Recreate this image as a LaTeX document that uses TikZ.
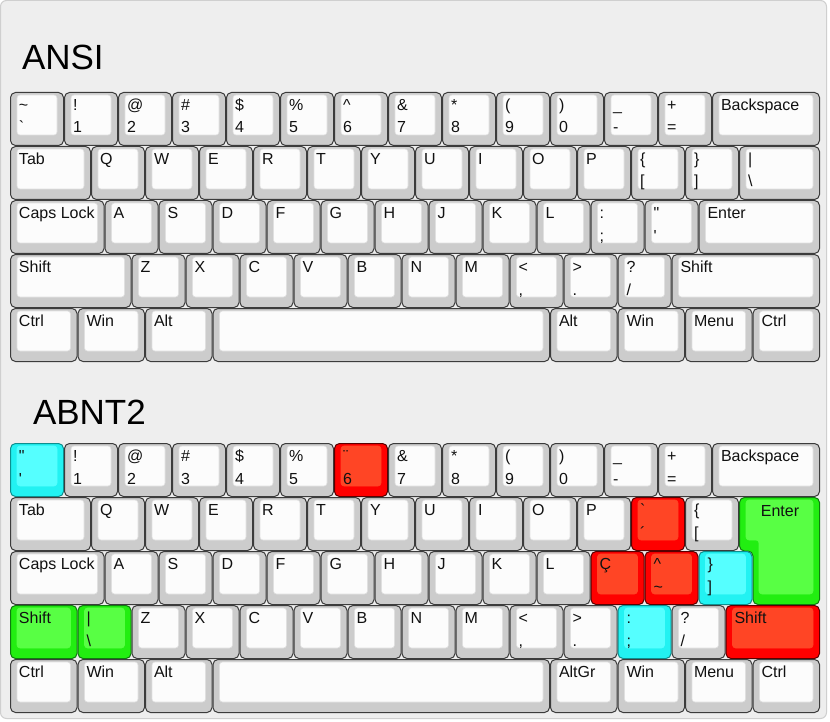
\documentclass[tikz,border=0pt]{standalone}
\usepackage{fontspec}
\setmainfont{Liberation Sans}[Ligatures=TeXOff]
\definecolor{keybg}{HTML}{EEEEEE}
\definecolor{frame}{HTML}{CFCFCF}
\definecolor{keygray}{HTML}{CCCCCC}
\definecolor{keyedge}{HTML}{3C3C3C}
\definecolor{keytop}{HTML}{FCFCFC}
\definecolor{keytopedge}{HTML}{E0E0E0}
\definecolor{keytext}{HTML}{111111}
\definecolor{redout}{HTML}{FF0000}
\definecolor{rededge}{HTML}{5A0000}
\definecolor{redinn}{HTML}{FF4525}
\definecolor{cyanout}{HTML}{22F2F2}
\definecolor{cyanedge}{HTML}{0E8F8F}
\definecolor{cyaninn}{HTML}{55FFFF}
\definecolor{greenout}{HTML}{22EE11}
\definecolor{greenedge}{HTML}{107A10}
\definecolor{greeninn}{HTML}{58FF44}
\tikzset{
  nout/.style={fill=keygray, draw=keyedge, line width=1pt, rounded corners=5pt},
  ninn/.style={fill=keytop, draw=keytopedge, line width=0.6pt, rounded corners=3pt},
  rout/.style={fill=redout, draw=rededge, line width=1pt, rounded corners=5pt},
  rinn/.style={fill=redinn, draw=redinn, line width=0.6pt, rounded corners=3pt},
  cout/.style={fill=cyanout, draw=cyanedge, line width=1pt, rounded corners=5pt},
  cinn/.style={fill=cyaninn, draw=cyaninn, line width=0.6pt, rounded corners=3pt},
  gout/.style={fill=greenout, draw=greenedge, line width=1pt, rounded corners=5pt},
  ginn/.style={fill=greeninn, draw=greeninn, line width=0.6pt, rounded corners=3pt},
  lbl/.style={anchor=base west, inner sep=0pt, outer sep=0pt, text=keytext, font=\fontsize{16pt}{16pt}\selectfont},
  kbtitle/.style={anchor=base west, inner sep=0pt, outer sep=0pt, text=black, font=\fontsize{35pt}{35pt}\selectfont}
}
% #1 name, #2 x, #3 y, #4 width, #5 top label, #6 bottom label, #7 colour prefix
\newcommand\kb[7]{%
  \path[#7out] ({#2+0.5},{#3+0.5}) rectangle ({#2+#4-0.5},{#3+53.5});
  \path[#7inn] ({#2+7},{#3+3}) rectangle ({#2+#4-7},{#3+43});
  \if\relax\detokenize{#5}\relax\else\node[lbl] (#1) at ({#2+9},{#3+18.5}) {#5};\fi
  \if\relax\detokenize{#6}\relax\else\node[lbl] (#1b) at ({#2+9},{#3+41}) {#6};\fi
}
\begin{document}
\begin{tikzpicture}[x=1pt,y=-1pt]
\useasboundingbox (0,0) rectangle (830,722);
\fill[white] (0,0) rectangle (830,722);
\path[fill=keybg, draw=frame, line width=1pt, rounded corners=6pt] (0.5,0.5) rectangle (826.5,718.5);

\node[kbtitle] (tansi) at (22,70) {ANSI};
\node[kbtitle] (tabnt) at (33,424) {ABNT2};

% ================= ANSI =================
% row 1
\kb{a1-0}{10}{92}{54}{\textasciitilde}{`}{n}
\kb{a1-1}{64}{92}{54}{!}{1}{n}
\kb{a1-2}{118}{92}{54}{@}{2}{n}
\kb{a1-3}{172}{92}{54}{\#}{3}{n}
\kb{a1-4}{226}{92}{54}{\$}{4}{n}
\kb{a1-5}{280}{92}{54}{\%}{5}{n}
\kb{a1-6}{334}{92}{54}{\textasciicircum}{6}{n}
\kb{a1-7}{388}{92}{54}{\&}{7}{n}
\kb{a1-8}{442}{92}{54}{*}{8}{n}
\kb{a1-9}{496}{92}{54}{(}{9}{n}
\kb{a1-10}{550}{92}{54}{)}{0}{n}
\kb{a1-11}{604}{92}{54}{\_}{-}{n}
\kb{a1-12}{658}{92}{54}{+}{=}{n}
\kb{a1-13}{712}{92}{108}{Backspace}{}{n}
% row 2
\kb{a2-t}{10}{146}{81}{Tab}{}{n}
\foreach \l [count=\i from 0] in {Q,W,E,R,T,Y,U,I,O,P}{\kb{a2-\i}{91+54*\i}{146}{54}{\l}{}{n}}
\kb{a2-lb}{631}{146}{54}{\{}{[}{n}
\kb{a2-rb}{685}{146}{54}{\}}{]}{n}
\kb{a2-bs}{739}{146}{81}{|}{\textbackslash}{n}
% row 3
\kb{a3-c}{10}{200}{94.5}{Caps Lock}{}{n}
\foreach \l [count=\i from 0] in {A,S,D,F,G,H,J,K,L}{\kb{a3-\i}{104.5+54*\i}{200}{54}{\l}{}{n}}
\kb{a3-sc}{590.5}{200}{54}{:}{;}{n}
\kb{a3-q}{644.5}{200}{54}{"}{'}{n}
\kb{a3-e}{698.5}{200}{121.5}{Enter}{}{n}
% row 4
\kb{a4-ls}{10}{254}{121.5}{Shift}{}{n}
\foreach \l [count=\i from 0] in {Z,X,C,V,B,N,M}{\kb{a4-\i}{131.5+54*\i}{254}{54}{\l}{}{n}}
\kb{a4-cm}{509.5}{254}{54}{<}{,}{n}
\kb{a4-pd}{563.5}{254}{54}{>}{.}{n}
\kb{a4-sl}{617.5}{254}{54}{?}{/}{n}
\kb{a4-rs}{671.5}{254}{148.5}{Shift}{}{n}
% row 5
\kb{a5-0}{10}{308}{67.5}{Ctrl}{}{n}
\kb{a5-1}{77.5}{308}{67.5}{Win}{}{n}
\kb{a5-2}{145}{308}{67.5}{Alt}{}{n}
\kb{a5-3}{212.5}{308}{337.5}{}{}{n}
\kb{a5-4}{550}{308}{67.5}{Alt}{}{n}
\kb{a5-5}{617.5}{308}{67.5}{Win}{}{n}
\kb{a5-6}{685}{308}{67.5}{Menu}{}{n}
\kb{a5-7}{752.5}{308}{67.5}{Ctrl}{}{n}

% ================= ABNT2 =================
% row 1
\kb{b1-0}{10}{443}{54}{"}{'}{c}
\kb{b1-1}{64}{443}{54}{!}{1}{n}
\kb{b1-2}{118}{443}{54}{@}{2}{n}
\kb{b1-3}{172}{443}{54}{\#}{3}{n}
\kb{b1-4}{226}{443}{54}{\$}{4}{n}
\kb{b1-5}{280}{443}{54}{\%}{5}{n}
\kb{b1-6}{334}{443}{54}{¨}{6}{r}
\kb{b1-7}{388}{443}{54}{\&}{7}{n}
\kb{b1-8}{442}{443}{54}{*}{8}{n}
\kb{b1-9}{496}{443}{54}{(}{9}{n}
\kb{b1-10}{550}{443}{54}{)}{0}{n}
\kb{b1-11}{604}{443}{54}{\_}{-}{n}
\kb{b1-12}{658}{443}{54}{+}{=}{n}
\kb{b1-13}{712}{443}{108}{Backspace}{}{n}
% row 2
\kb{b2-t}{10}{497}{81}{Tab}{}{n}
\foreach \l [count=\i from 0] in {Q,W,E,R,T,Y,U,I,O,P}{\kb{b2-\i}{91+54*\i}{497}{54}{\l}{}{n}}
\kb{b2-ac}{631}{497}{54}{`}{´}{r}
\kb{b2-lb}{685}{497}{54}{\{}{[}{n}
\path[gout] (739.5,497.5) -- (819.5,497.5) -- (819.5,604.5) -- (753,604.5) -- (753,551) -- (739.5,551) -- cycle;
\path[ginn] (746,500) -- (813,500) -- (813,594) -- (759,594) -- (759,540) -- (746,540) -- cycle;
\node[lbl, anchor=base] (b2-enter) at (780,516.5) {Enter};
% row 3
\kb{b3-c}{10}{551}{94.5}{Caps Lock}{}{n}
\foreach \l [count=\i from 0] in {A,S,D,F,G,H,J,K,L}{\kb{b3-\i}{104.5+54*\i}{551}{54}{\l}{}{n}}
\kb{b3-cc}{590.5}{551}{54}{Ç}{}{r}
\kb{b3-ti}{644.5}{551}{54}{\textasciicircum}{\textasciitilde}{r}
\kb{b3-rb}{698.5}{551}{54}{\}}{]}{c}
% row 4
\kb{b4-ls}{10}{605}{67.5}{Shift}{}{g}
\kb{b4-bs}{77.5}{605}{54}{|}{\textbackslash}{g}
\foreach \l [count=\i from 0] in {Z,X,C,V,B,N,M}{\kb{b4-\i}{131.5+54*\i}{605}{54}{\l}{}{n}}
\kb{b4-cm}{509.5}{605}{54}{<}{,}{n}
\kb{b4-pd}{563.5}{605}{54}{>}{.}{n}
\kb{b4-sc}{617.5}{605}{54}{:}{;}{c}
\kb{b4-sl}{671.5}{605}{54}{?}{/}{n}
\kb{b4-rs}{725.5}{605}{94.5}{Shift}{}{r}
% row 5
\kb{b5-0}{10}{659}{67.5}{Ctrl}{}{n}
\kb{b5-1}{77.5}{659}{67.5}{Win}{}{n}
\kb{b5-2}{145}{659}{67.5}{Alt}{}{n}
\kb{b5-3}{212.5}{659}{337.5}{}{}{n}
\kb{b5-4}{550}{659}{67.5}{AltGr}{}{n}
\kb{b5-5}{617.5}{659}{67.5}{Win}{}{n}
\kb{b5-6}{685}{659}{67.5}{Menu}{}{n}
\kb{b5-7}{752.5}{659}{67.5}{Ctrl}{}{n}
\end{tikzpicture}
\end{document}
